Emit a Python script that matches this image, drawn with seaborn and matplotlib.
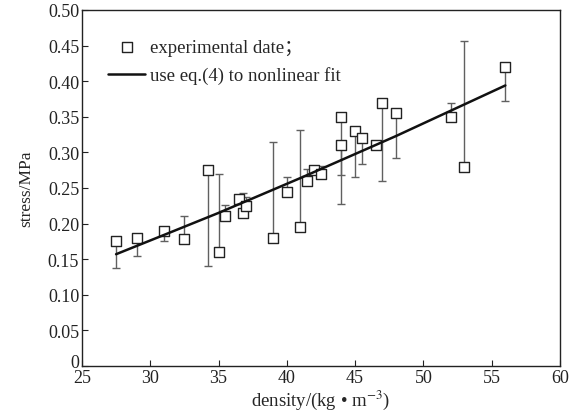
import numpy as np
import pandas as pd
import matplotlib
matplotlib.use("Agg")
import matplotlib.pyplot as plt
import matplotlib.transforms as mtransforms
import seaborn as sns

# measured points
density = [27.5, 29, 31, 32.5, 34.2, 35, 35.5, 36.5, 36.8, 37, 39, 40, 41, 41.5,
           42, 42.5, 44, 44, 45, 45.5, 46.5, 47, 48, 52, 53, 56]
stress = [0.175, 0.18, 0.19, 0.178, 0.275, 0.16, 0.21, 0.235, 0.215, 0.225, 0.18,
          0.245, 0.195, 0.26, 0.275, 0.27, 0.35, 0.31, 0.33, 0.32, 0.31, 0.37,
          0.355, 0.35, 0.28, 0.42]

# one-sided error bars: drawn from the point to the cap value
bar_x = [27.5, 29, 31, 32.5, 34.2, 35, 35.5, 36.8, 37, 39, 40, 41, 41.5, 42.5,
         44, 44, 45, 45.5, 47, 48, 52, 53, 56]
bar_y = [0.175, 0.18, 0.19, 0.178, 0.275, 0.16, 0.21, 0.215, 0.225, 0.18, 0.245,
         0.195, 0.26, 0.27, 0.35, 0.31, 0.33, 0.32, 0.37, 0.355, 0.35, 0.28, 0.42]
bar_end = [0.138, 0.155, 0.176, 0.211, 0.141, 0.269, 0.226, 0.243, 0.238, 0.314,
           0.265, 0.331, 0.276, 0.281, 0.268, 0.2275, 0.265, 0.284, 0.26, 0.2925,
           0.369, 0.457, 0.3725]

# fitted curve (eq. 4)
fit_x = [27.5, 31, 35, 41, 48, 56]
fit_y = [0.157, 0.184, 0.215, 0.264, 0.323, 0.394]

sns.set_style("ticks")
plt.rcParams['font.family'] = ['Liberation Serif', 'Noto Sans CJK SC', 'DejaVu Serif']
plt.rcParams['mathtext.fontset'] = 'stix'

fig = plt.figure(figsize=(5.77, 4.14), dpi=100)
ax = fig.add_axes([0.142, 0.1135, 0.8285, 0.86])

by = np.array(bar_y)
be = np.array(bar_end)
lo = np.clip(by - be, 0, None)
hi = np.clip(be - by, 0, None)
ax.errorbar(bar_x, by, yerr=[lo, hi], fmt='none', ecolor='#606060',
            elinewidth=1.0, capsize=3, capthick=1.0, zorder=1)

df = pd.DataFrame({'density': density, 'stress': stress})
sns.scatterplot(data=df, x='density', y='stress', marker='s', s=55,
                facecolor='white', edgecolor='#222222', linewidth=1.0,
                ax=ax, zorder=2, label='experimental date；')
sns.lineplot(x=fit_x, y=fit_y, color='#111111', linewidth=1.8, ax=ax, zorder=3,
             label='use eq.(4) to nonlinear fit')

ax.set_xlim(25, 60)
ax.set_ylim(0, 0.5)
ax.set_xticks(range(25, 61, 5))
yt = np.arange(0, 0.501, 0.05)
ax.set_yticks(yt)
ax.set_yticklabels(['0'] + ['%.2f' % v for v in yt[1:]])
ax.tick_params(direction='in', length=4, width=0.8, labelsize=13,
               colors='#222222', pad=2)
# lift the "0" a little so it sits above "25" like the original
zero = ax.get_yticklabels()[0]
zero.set_transform(zero.get_transform() +
                   mtransforms.ScaledTranslation(0, 4 / 72, fig.dpi_scale_trans))
for s in ax.spines.values():
    s.set_linewidth(1.0)
    s.set_color('#222222')

ax.set_xlabel(r'density/(kg • m$^{-3}$)', fontsize=13.5, labelpad=1)
ax.set_ylabel('stress/MPa', fontsize=12.5, labelpad=10)

leg = ax.legend(loc='upper left', bbox_to_anchor=(0.028, 0.955), frameon=False,
                fontsize=13.5, handlelength=1.95, handletextpad=0.25,
                labelspacing=0.55, borderaxespad=0.3)

fig.savefig('out.png', dpi=100)
